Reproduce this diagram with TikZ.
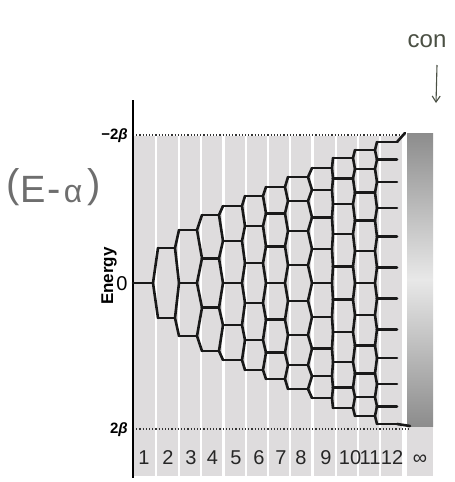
\documentclass[tikz,border=0pt]{standalone}
\usepackage{fontspec}
\setmainfont{Liberation Sans}
\usetikzlibrary{arrows.meta}
\definecolor{barcol}{RGB}{222,220,221}
\definecolor{levcol}{RGB}{25,25,25}
\definecolor{pencil}{RGB}{110,110,110}
\definecolor{ink}{RGB}{75,80,68}
\begin{document}
\begin{tikzpicture}[x=1pt,y=-1pt,
  lev/.style={line width=2.6pt,draw=levcol,line cap=round,line join=round},
  barfill/.style={fill=barcol},
  dotline/.style={draw=black!80,line width=1.2pt,dotted},
  num/.style={font=\fontsize{20}{20}\selectfont,anchor=base,inner sep=0pt,text=black!85},
  axlab/.style={font=\fontsize{15}{15}\selectfont\bfseries,anchor=east,inner sep=0pt},
  hand/.style={text=pencil,inner sep=0pt}]
\fill[white] (0,0) rectangle (455,482);
\useasboundingbox (0,0) rectangle (455,482);

% column bars
\foreach \a/\b in {134/155,157/178,180/200,202/222,225/245,247/267,269/289,291/311,314/335,337/357,359/379,381/402}{
  \fill[barfill] (\a,136) rectangle (\b,476);}
\fill[barfill] (407,136) rectangle (433,476);
\shade[top color=gray!90,bottom color=gray!90,middle color=gray!18] (407,133) rectangle (433,426);

% dotted limits
\coordinate (dtl) at (133,135); \coordinate (dtr) at (405,135);
\coordinate (dbl) at (133,429); \coordinate (dbr) at (410,429);
\draw[dotline] (dtl) -- (dtr);
\draw[dotline] (dbl) -- (dbr);

% axis
\coordinate (axt) at (133,100); \coordinate (axb) at (133,478);
\draw[line width=1.6pt] (axt) -- (axb);

% level coordinates
\def\topv{{0,35,53,68,77,87,96,106,115,125,133,141}}
\def\Lv{{133,158,179,202,223,245,266,288,312,333,355,377}}
\def\Rv{{153,175,197,219,242,263,285,308,332,353,375,397}}
\foreach \N in {1,...,12}{
  \pgfmathsetmacro\T{\topv[\N-1]}
  \pgfmathsetmacro\xl{\Lv[\N-1]}
  \pgfmathsetmacro\xr{\Rv[\N-1]}
  \foreach \k in {1,...,\N}{
    \ifnum\N=1\relax
      \def\yy{283}
    \else
      \pgfmathsetmacro\yy{283-\T*(0.6*cos(\k*180/(\N+1))/cos(180/(\N+1))+0.4*(\N+1-2*\k)/(\N-1))}
    \fi
    \coordinate (a\N-\k) at (\xl,\yy);
    \coordinate (b\N-\k) at (\xr,\yy);
  }
}
% connectors
\foreach \N in {1,...,11}{
  \pgfmathtruncatemacro\M{\N+1}
  \foreach \k in {1,...,\N}{
    \pgfmathtruncatemacro\kk{\k+1}
    \draw[lev] (a\M-\k) -- (b\N-\k) -- (a\M-\kk);
  }
}
% levels
\foreach \N in {1,...,12}{\foreach \k in {1,...,\N}{\draw[lev] (a\N-\k) -- (b\N-\k);}}
\coordinate (it) at (405,133); \coordinate (ib) at (410,426);
\draw[lev] (b12-1) -- (it);
\draw[lev] (b12-12) -- (ib);

% axis labels
\node[axlab] (lt) at (128,136) {−2\textit{β}};
\node[axlab] (lb) at (128,430) {2\textit{β}};
\node[font=\fontsize{20}{20}\selectfont,inner sep=0pt] (zero) at (122,284) {0};
\node[font=\fontsize{17}{17}\selectfont\bfseries,rotate=90,inner sep=0pt] (energy) at (109,276) {Energy};

% column numbers
\foreach \x/\t [count=\i] in {144/1,168/2,191/3,212.5/4,236/5,259/6,281/7,301/8,326/9,350/10,370/11,392/12}{
  \node[num] (n\i) at (\x,464) {\t};}
\node[num] (ninf) at (420,464) {∞};

% handwritten notes
\node[hand,font=\fontsize{40}{40}\selectfont] (hp1) at (13,187) {(};
\node[hand,font=\fontsize{38}{38}\selectfont] (hE) at (33,189) {E};
\node[hand,font=\fontsize{40}{40}\selectfont] (hm) at (54,196) {-};
\node[hand,font=\fontsize{32}{32}\selectfont] (ha) at (73,194) {α};
\node[hand,font=\fontsize{40}{40}\selectfont] (hp2) at (94,187) {)};
\node[text=ink,font=\fontsize{24}{24}\selectfont,inner sep=0pt] (con) at (427,41) {con};
\coordinate (ar1) at (437,65); \coordinate (ar2) at (436,103);
\draw[ink,line width=1.1pt,-{Straight Barb[length=6pt,width=8pt]}] (ar1) -- (ar2);
\end{tikzpicture}
\end{document}
